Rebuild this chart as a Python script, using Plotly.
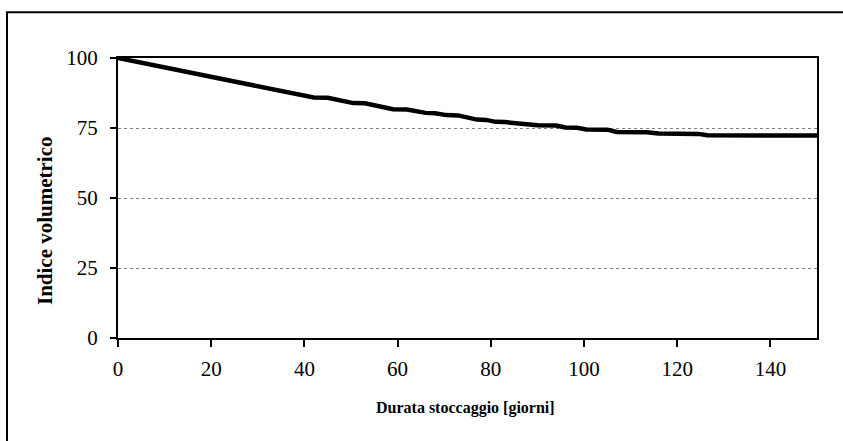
import plotly.graph_objects as go

# Data
giorni = [0, 12, 42, 45, 50.5, 53, 59, 62, 66, 68, 70.5, 73, 77, 79, 81, 83,
          85.5, 87.5, 90, 94, 96, 98.5, 100.5, 105, 107, 113.5, 116, 124.5,
          126.5, 150]
indice = [100, 96, 85.9, 85.8, 83.9, 83.8, 81.7, 81.6, 80.4, 80.3, 79.6, 79.5,
          78.0, 77.9, 77.2, 77.1, 76.6, 76.5, 76.0, 75.9, 75.2, 75.1, 74.5,
          74.4, 73.6, 73.5, 73.0, 72.9, 72.4, 72.3]

x_ticks = [0, 20, 40, 60, 80, 100, 120, 140]
y_ticks = [0, 25, 50, 75, 100]

FONT = "Liberation Serif, Times New Roman, serif"

fig = go.Figure()
fig.add_trace(go.Scatter(x=giorni, y=indice, mode="lines",
                         line=dict(color="black", width=4.5),
                         showlegend=False, hoverinfo="skip"))

fig.update_layout(
    width=843, height=441,
    paper_bgcolor="white", plot_bgcolor="white",
    margin=dict(l=118, r=26, t=58, b=103, autoexpand=False),
    font=dict(family=FONT, color="black", size=21),
    xaxis=dict(range=[0, 150], tickvals=x_ticks, ticks="outside", ticklen=7,
               tickwidth=2, tickcolor="black", showline=True, linewidth=2,
               linecolor="black", mirror=True, showgrid=False, zeroline=False,
               ticklabelstandoff=4,
               tickfont=dict(size=21, family=FONT)),
    yaxis=dict(range=[0, 100], tickvals=y_ticks, ticks="outside", ticklen=6,
               tickwidth=2, tickcolor="black", showline=True, linewidth=2,
               linecolor="black", mirror=True, showgrid=True,
               gridcolor="#808080", gridwidth=1, griddash="dot",
               zeroline=False, ticklabelstandoff=8,
               tickfont=dict(size=21, family=FONT)),
    annotations=[
        dict(text="<b>Durata stoccaggio [giorni]</b>", xref="paper",
             yref="paper", x=0.497, y=(338.3 - 408) / 280.8, showarrow=False,
             font=dict(size=16, family=FONT), xanchor="center",
             yanchor="middle"),
        dict(text="<b>Indice volumetrico</b>", xref="paper", yref="paper",
             x=(45 - 118) / 699, y=(338.3 - 221) / 280.8, showarrow=False,
             textangle=-90, font=dict(size=21, family=FONT),
             xanchor="center", yanchor="middle"),
    ],
    shapes=[
        dict(type="rect", xref="paper", yref="paper",
             x0=(7 - 118) / 699, x1=1.2, y0=-0.6,
             y1=(338.3 - 11.5) / 280.8,
             line=dict(color="black", width=2), fillcolor="rgba(0,0,0,0)",
             layer="below"),
    ],
)

fig.write_html("out.html",
               config={"displayModeBar": False},
               post_script="document.body.style.margin='0';"
                           "document.body.style.padding='0';")
